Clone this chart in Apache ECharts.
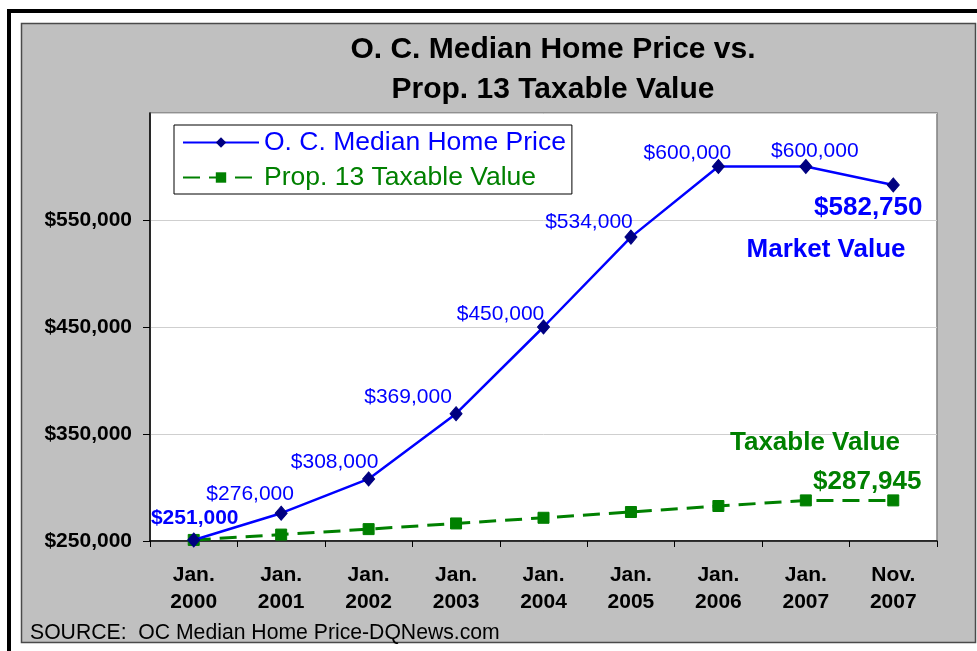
<!DOCTYPE html>
<html>
<head>
<meta charset="utf-8">
<title>O. C. Median Home Price vs. Prop. 13 Taxable Value</title>
<script src="https://cdn.jsdelivr.net/npm/echarts@6/dist/echarts.min.js"></script>
<style>
  html, body { margin: 0; padding: 0; background: #fff; }
  #chart { width: 977px; height: 651px; }
</style>
</head>
<body>
<div id="chart"></div>
<script>
// data
const categories = ['Jan.\n2000', 'Jan.\n2001', 'Jan.\n2002', 'Jan.\n2003', 'Jan.\n2004',
  'Jan.\n2005', 'Jan.\n2006', 'Jan.\n2007', 'Nov.\n2007'];
const medianPrice = [251000, 276000, 308000, 369000, 450000, 534000, 600000, 600000, 582750];
const taxableValue = [251000, 256000, 261100, 266400, 271700, 277100, 282700, 287945, 287945];
const yMin = 250000;
const yMax = 650000;
const yStep = 100000;

const FONT = '"Liberation Sans", Arial, sans-serif';
const BLUE = '#0000ff';
const GREEN = '#008000';

const money = v => '$' + v.toLocaleString('en-US');

// label offsets from each point (label centre)
const priceOffsets = [[1, -22], [-31, -19], [-34, -17], [-48, -16], [-43, -13],
  [-42, -15], [-31, -13], [9, -15], [-25, 23]];

const priceData = medianPrice.map((v, i) => {
  const last = i === medianPrice.length - 1;
  const big = i === 0 || last;
  return {
    value: v,
    label: {
      show: true,
      position: 'inside',
      offset: priceOffsets[i],
      formatter: p => money(p.value),
      color: BLUE,
      fontSize: last ? 26 : 21,
      fontWeight: big ? 'bold' : 'normal',
      fontFamily: FONT
    }
  };
});

const taxData = taxableValue.map((v, i) => {
  if (i !== taxableValue.length - 1) return v;
  return {
    value: v,
    label: {
      show: true,
      position: 'inside',
      offset: [-26, -19],
      formatter: p => money(p.value),
      color: GREEN,
      fontSize: 26,
      fontWeight: 'bold',
      fontFamily: FONT
    }
  };
});

const myChart = echarts.init(document.getElementById('chart'), null, { renderer: 'canvas' });

const option = {
  backgroundColor: '#ffffff',
  animation: false,
  textStyle: { fontFamily: FONT },
  title: {
    text: 'O. C. Median Home Price vs.\nProp. 13 Taxable Value',
    left: 548,
    top: 25,
    textAlign: 'center',
    textStyle: {
      fontSize: 30,
      fontWeight: 'bold',
      color: '#000',
      lineHeight: 40,
      fontFamily: FONT
    }
  },
  graphic: [
    {
      type: 'rect', z: -10, silent: true,
      shape: { x: 7, y: 9, width: 970, height: 4 },
      style: { fill: '#000' }
    },
    {
      type: 'rect', z: -10, silent: true,
      shape: { x: 7, y: 9, width: 4, height: 642 },
      style: { fill: '#000' }
    },
    {
      type: 'rect', z: -10, silent: true,
      shape: { x: 21.5, y: 23.5, width: 954, height: 619 },
      style: { fill: '#c0c0c0', stroke: '#4a4a4a', lineWidth: 1.5 }
    },
    {
      type: 'text', z: 100, silent: true,
      x: 826, y: 250,
      style: {
        text: 'Market Value', fill: BLUE, font: 'bold 26px ' + FONT,
        align: 'center', verticalAlign: 'middle'
      }
    },
    {
      type: 'text', z: 100, silent: true,
      x: 815, y: 443,
      style: {
        text: 'Taxable Value', fill: GREEN, font: 'bold 26px ' + FONT,
        align: 'center', verticalAlign: 'middle'
      }
    },
    {
      type: 'text', z: 100, silent: true,
      x: 30, y: 633,
      style: {
        text: 'SOURCE:  OC Median Home Price-DQNews.com', fill: '#000',
        font: '21.2px ' + FONT, align: 'left', verticalAlign: 'middle'
      }
    }
  ],
  legend: {
    orient: 'vertical',
    left: 174,
    top: 125,
    padding: [4, 6, 3, 8],
    itemGap: 8,
    itemWidth: 76,
    itemHeight: 13,
    backgroundColor: '#fff',
    borderColor: '#000',
    borderWidth: 1,
    borderRadius: 0,
    textStyle: { fontSize: 26.5, lineHeight: 25, fontFamily: FONT },
    data: [
      { name: 'O. C. Median Home Price', textStyle: { color: BLUE } },
      { name: 'Prop. 13 Taxable Value', textStyle: { color: GREEN } }
    ]
  },
  grid: {
    left: 150,
    top: 113,
    right: 40,
    bottom: 110,
    show: true,
    backgroundColor: '#fff',
    borderColor: '#808080',
    borderWidth: 1.5
  },
  xAxis: {
    type: 'category',
    data: categories,
    boundaryGap: true,
    axisLine: { lineStyle: { color: '#000', width: 1.5 } },
    axisTick: { show: true, length: 6, lineStyle: { color: '#000', width: 1 } },
    axisLabel: {
      color: '#000',
      fontSize: 21,
      fontWeight: 'bold',
      lineHeight: 27,
      margin: 21,
      fontFamily: FONT
    }
  },
  yAxis: {
    type: 'value',
    min: yMin,
    max: yMax,
    interval: yStep,
    axisLine: { show: true, lineStyle: { color: '#000', width: 1.5 } },
    axisTick: { show: true, length: 7, lineStyle: { color: '#000', width: 1 } },
    axisLabel: {
      formatter: v => money(v),
      color: '#000',
      fontSize: 21,
      fontWeight: 'bold',
      margin: 18,
      showMaxLabel: false,
      fontFamily: FONT
    },
    splitLine: { show: true, lineStyle: { color: '#cfcfcf', width: 1 } }
  },
  series: [
    {
      name: 'O. C. Median Home Price',
      type: 'line',
      data: priceData,
      symbol: 'diamond',
      symbolSize: [12, 14],
      z: 3,
      lineStyle: { color: BLUE, width: 2.5 },
      itemStyle: { color: '#000080', borderColor: '#000080' }
    },
    {
      name: 'Prop. 13 Taxable Value',
      type: 'line',
      data: taxData,
      symbol: 'rect',
      symbolSize: 11,
      z: 2,
      lineStyle: { color: GREEN, width: 3, type: [17, 9] },
      itemStyle: { color: GREEN, borderColor: GREEN }
    }
  ]
};

myChart.setOption(option);
</script>
</body>
</html>
